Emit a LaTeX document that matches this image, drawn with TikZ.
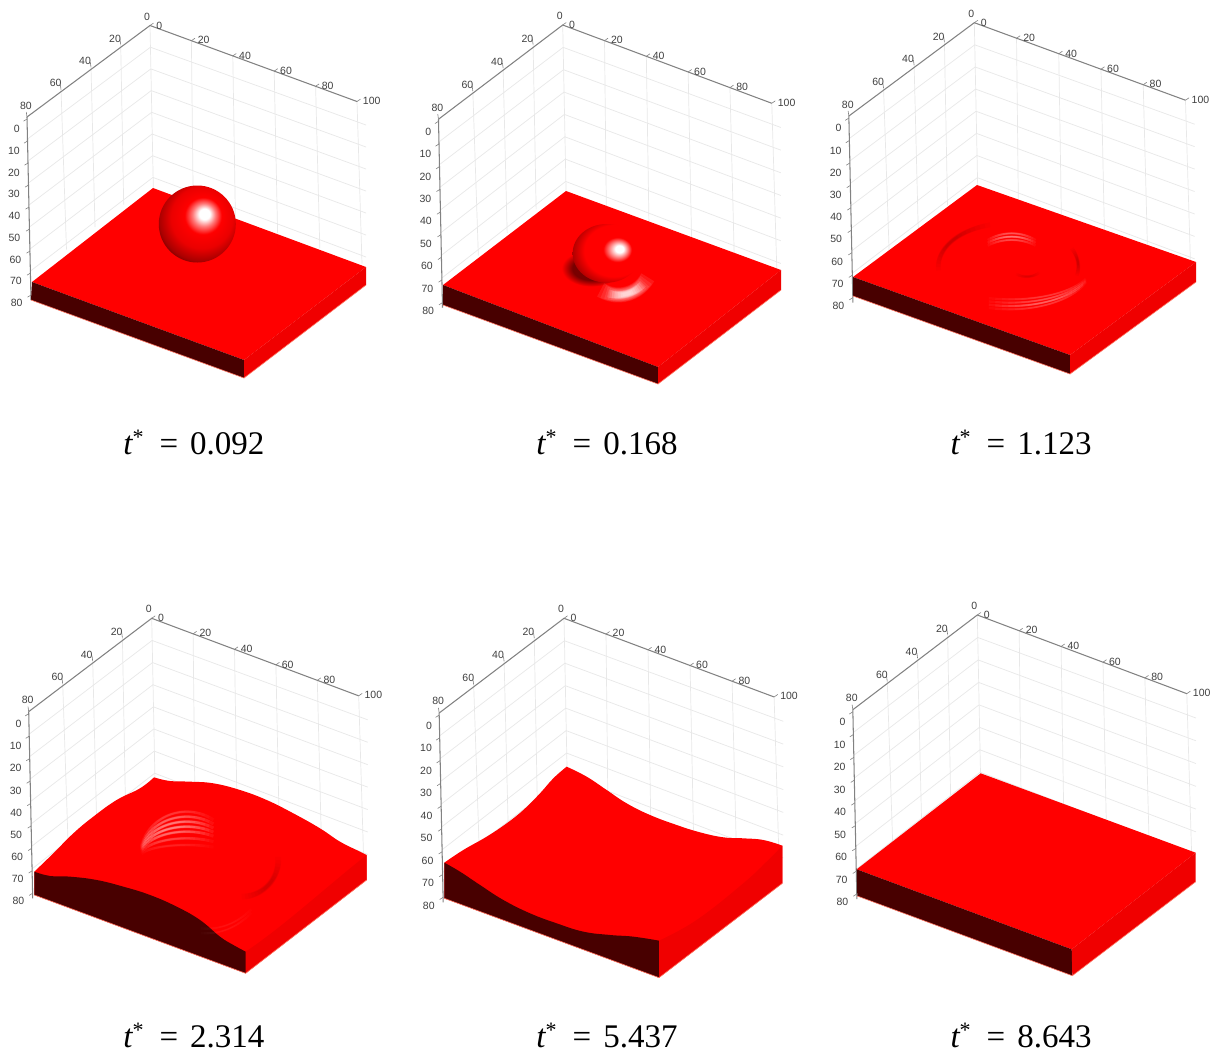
\documentclass[tikz,border=0pt]{standalone}
\usepackage{fontspec}
\setmainfont{Liberation Serif}
\newfontfamily\ticksf{Liberation Sans}
\definecolor{surf}{RGB}{255,0,0}
\definecolor{sideface}{RGB}{240,0,0}
\definecolor{frontface}{RGB}{72,0,0}
\definecolor{rimline}{RGB}{255,120,100}
\definecolor{axisgrey}{RGB}{130,130,130}
\definecolor{gridgrey}{RGB}{232,232,232}
\definecolor{ticktext}{RGB}{64,64,64}
\definecolor{hipink}{RGB}{255,120,120}
\definecolor{redA}{RGB}{235,0,0}
\definecolor{redB}{RGB}{170,0,0}
\definecolor{redC}{RGB}{60,0,0}
\definecolor{redD}{RGB}{120,0,0}
\pgfdeclareradialshading{ballA}{\pgfpoint{5bp}{7bp}}{color(0bp)=(white);color(3.5bp)=(white);color(7.5bp)=(hipink);color(12bp)=(surf);color(20bp)=(redA);color(27bp)=(redB);color(33bp)=(redC);color(50bp)=(redC)}
\pgfdeclareradialshading{domeB}{\pgfpoint{10bp}{4bp}}{color(0bp)=(white);color(3bp)=(white);color(7bp)=(hipink);color(10.5bp)=(surf);color(22bp)=(surf);color(30bp)=(redB);color(37bp)=(redC);color(50bp)=(redC)}
\pgfdeclareradialshading{haloB}{\pgfpoint{0bp}{0bp}}{color(0bp)=(redD);color(16bp)=(redD);color(25bp)=(surf);color(50bp)=(surf)}
\tikzset{
  tick label/.style={font=\ticksf\fontsize{10.5}{12}\selectfont,text=ticktext,inner sep=0pt},
  axis line/.style={axisgrey,line width=1.05pt},
  grid line/.style={gridgrey,line width=0.7pt},
  time label/.style={font=\fontsize{33}{36}\selectfont,inner sep=0pt,text=black,anchor=base},
}
\newcommand\glow[9]{%
  \foreach \k in {0,...,7}{%
    \pgfmathsetmacro\aa{#8+\k*(#9-#8)/18}%
    \pgfmathsetmacro\bb{#9-\k*(#9-#8)/18}%
    \pgfmathsetmacro\ww{#3*(1-\k/12)}%
    \draw[#1,opacity=#2,line width=\ww pt] (#4,#5) ++(\aa:#6 and #7) arc[start angle=\aa,end angle=\bb,x radius=#6,y radius=#7];
  }%
}
\newcommand\axesbox[5]{%
  \begin{scope}[shift={(#2,#3)},xscale=#4,yscale=#5]
    \foreach \k in {1,...,7}{%
      \draw[grid line] (0.42*\k,21.7*\k) -- (216,77.5+22*\k);
      \draw[grid line] (0.42*\k,21.7*\k) -- (-123+0.5*\k,91.5+22*\k);
    }
    \foreach \i in {1,...,5}{%
      \draw[grid line] (41.4*\i,15.2*\i) -- (41.4*\i+1+0.8*\i,15.2*\i+162);
    }
    \draw[grid line] (0,0) -- (3.4,165);
    \foreach \tx/\ty/\d in {-29.3/19/3,-59/41.7/4,-89/64/5.5}{%
      \draw[grid line] (\tx,\ty) -- (\tx+\d,\ty+160);
    }
    \draw[axis line] (-123,91.5) -- (0,0) -- (207,76);
    \draw[axis line] (-123,91.5) -- (-119,274.5);
    \foreach \k in {0,...,8}{%
      \draw[axis line,line width=0.6pt] (-123+0.5*\k,93.5+22*\k) -- ++(-3.5,2.2);
    }
    \foreach \i/\v/\lx/\ly in {0/0/9.3/0,1/20/53.7/14.5,2/40/95/30.2,3/60/136/45.2,4/80/177.7/60.2,5/100/221.7/75.2}{%
      \draw[axis line,line width=0.6pt] (41.4*\i,15.2*\i) -- ++(3.5,-2.4);
      \node[tick label] (p#1x\v) at (\lx,\ly) {\v};
    }
    \foreach \v/\tx/\ty/\lx/\ly in {20/-29.3/19/-35/13.5,40/-59/41.7/-65/35.5,60/-89/64/-94.3/57.8,80/-123/91.5/-124/80.2}{%
      \draw[axis line,line width=0.6pt] (\tx,\ty) -- ++(-0.7,-5);
      \node[tick label] (p#1y\v) at (\lx,\ly) {\v};
    }
    \node[tick label] (p#1y0) at (-3,-8.8) {0};
    \foreach \k/\v/\ex in {0/0/-130,1/10/-130,2/20/-130,3/30/-130,4/40/-129.5,5/50/-129.5,6/60/-128.5,7/70/-128,8/80/-127.3}{%
      \node[tick label,anchor=east] (p#1z\v) at (\ex,103.5+21.75*\k) {\v};
    }
  \end{scope}%
}
\newcommand\flatslab{%
  \fill[surf] (B) -- (L) -- (F) -- (R) -- cycle;
  \fill[frontface] (L) -- (F) -- (FB) -- (LB) -- cycle;
  \fill[sideface] (F) -- (R) -- (RB) -- (FB) -- cycle;
  \draw[rimline,line width=0.6pt] (LB) -- (FB) -- (RB);
}
\newcommand\timelabel[4]{\node[time label] (#1) at (#2,#3) {{\itshape t}\raisebox{10pt}{\fontsize{22}{24}\selectfont *}\hspace{16pt}=\hspace{12pt}#4};}
\begin{document}
\begin{tikzpicture}[x=1pt,y=-1pt]
\useasboundingbox (0,0) rectangle (1214,1053);
\fill[white] (0,0) rectangle (1214,1053);

% ===== panel 1
\axesbox{a}{150}{25.5}{1}{1}
\coordinate (B) at (153,188); \coordinate (L) at (32,282); \coordinate (LB) at (31,300);
\coordinate (F) at (244,360); \coordinate (FB) at (244,378); \coordinate (R) at (366,267); \coordinate (RB) at (366,285);
\flatslab
\shade[shading=ballA] (197.3,224) circle[radius=38.5];

% ===== panel 2
\axesbox{b}{562.7}{25}{1.01}{1.03}
\coordinate (B) at (566,191); \coordinate (L) at (443,285); \coordinate (LB) at (443,305);
\coordinate (F) at (658,367); \coordinate (FB) at (658,384); \coordinate (R) at (781,270); \coordinate (RB) at (781,290);
\flatslab
\begin{scope}[shift={(410,150)},x=0.3333pt,y=-0.3333pt]
  \shade[shading=haloB] (545,355) ellipse (90 and 55);
  \shade[shading=domeB] (590,310) ellipse (102 and 88);
  \glow{white}{0.09}{15}{625}{335}{100}{100}{28}{122}
  \glow{white}{0.13}{8}{625}{335}{100}{100}{42}{108}
\end{scope}

% ===== panel 3
\axesbox{c}{974.3}{22.7}{1.02}{1.02}
\coordinate (B) at (977,185); \coordinate (L) at (853,277); \coordinate (LB) at (853,296);
\coordinate (F) at (1070,355); \coordinate (FB) at (1070,374); \coordinate (R) at (1196,262); \coordinate (RB) at (1196,282);
\flatslab
\begin{scope}[shift={(830,170)},x=0.3333pt,y=-0.3333pt]
  \glow{black}{0.022}{5}{535}{290}{210}{130}{175}{255}
  \glow{black}{0.022}{4}{535}{290}{210}{130}{-25}{12}
  \foreach \r/\o in {112/0.05,102/0.075,92/0.045}{\glow{white}{\o}{2.4}{545}{302}{125}{\r}{235}{305}}
  \foreach \r/\o in {128/0.03,118/0.06,108/0.045,98/0.03}{\glow{white}{\o}{2.4}{540}{290}{245}{\r}{22}{105}}
  \glow{black}{0.015}{3}{590}{285}{50}{35}{40}{130}
\end{scope}

% ===== panel 4
\axesbox{d}{151.7}{618.3}{1}{1.02}
\begin{scope}[shift={(0,590)},x=0.3333pt,y=-0.3333pt]
  \fill[surf] plot[smooth,tension=0.7] coordinates {(103,845)(160,790)(220,730)(280,680)(350,630)(420,595)(462,562)}
    -- plot[smooth,tension=0.7] coordinates {(462,562)(510,573)(570,575)(640,580)(720,600)(800,630)(880,670)(960,715)(1020,755)(1080,785)(1100,795)}
    -- (1100,870) -- (737,1150) -- (103,915) -- cycle;
  \fill[sideface] (737,1085) .. controls (850,1010) and (980,890) .. (1100,795) -- (1100,870) -- (737,1150) -- cycle;
  \fill[frontface] plot[smooth,tension=0.7] coordinates {(103,845)(150,858)(210,860)(290,870)(370,890)(450,915)(530,950)(600,990)(660,1040)(700,1065)(737,1085)}
    -- (737,1150) -- (103,915) -- cycle;
  \draw[rimline,line width=0.6pt] (103,915) -- (737,1150) -- (1100,870);
  \foreach \r/\o in {135/0.03,120/0.06,105/0.08,90/0.085,75/0.065,55/0.04,35/0.02}{\glow{white}{\o}{3}{560}{800}{140}{\r}{195}{305}}
  \glow{black}{0.018}{6}{725}{810}{110}{110}{-5}{90}
  \foreach \r in {240,226}{\glow{white}{0.012}{2.5}{620}{790}{200}{\r}{48}{95}}
\end{scope}

% ===== panel 5
\axesbox{e}{564}{618.3}{1.015}{1.035}
\begin{scope}[shift={(410,590)},x=0.3333pt,y=-0.3333pt]
  \fill[surf] plot[smooth,tension=0.7] coordinates {(103,818)(160,780)(230,740)(290,700)(340,660)(390,610)(430,565)(470,530)}
    -- plot[smooth,tension=0.7] coordinates {(470,530)(530,560)(590,600)(650,640)(720,675)(800,705)(870,727)(940,742)(1000,745)(1060,750)(1117,767)}
    -- (1117,880) -- (747,1163) -- (103,925) -- cycle;
  \fill[sideface] plot[smooth,tension=0.7] coordinates {(747,1052)(860,990)(1000,880)(1075,810)(1117,767)} -- (1117,880) -- (747,1163) -- cycle;
  \fill[frontface] plot[smooth,tension=0.7] coordinates {(103,818)(150,845)(210,885)(280,930)(360,970)(440,1000)(520,1025)(600,1035)(670,1040)(747,1052)}
    -- (747,1163) -- (103,925) -- cycle;
  \draw[rimline,line width=0.6pt] (103,925) -- (747,1163) -- (1117,880);
\end{scope}

% ===== panel 6
\axesbox{f}{977.3}{615}{1.012}{1.035}
\coordinate (B) at (980.7,773.3); \coordinate (L) at (856.7,869.3); \coordinate (LB) at (857.3,896);
\coordinate (F) at (1071.7,949.3); \coordinate (FB) at (1072.3,975.7); \coordinate (R) at (1195.7,852.7); \coordinate (RB) at (1195.7,881.7);
\flatslab

% ===== times
\timelabel{ta}{194}{454}{0.092}
\timelabel{tb}{607}{454}{0.168}
\timelabel{tc}{1021}{454}{1.123}
\timelabel{td}{194}{1047.5}{2.314}
\timelabel{te}{607}{1047.5}{5.437}
\timelabel{tf}{1021}{1047.5}{8.643}
\end{tikzpicture}
\end{document}
